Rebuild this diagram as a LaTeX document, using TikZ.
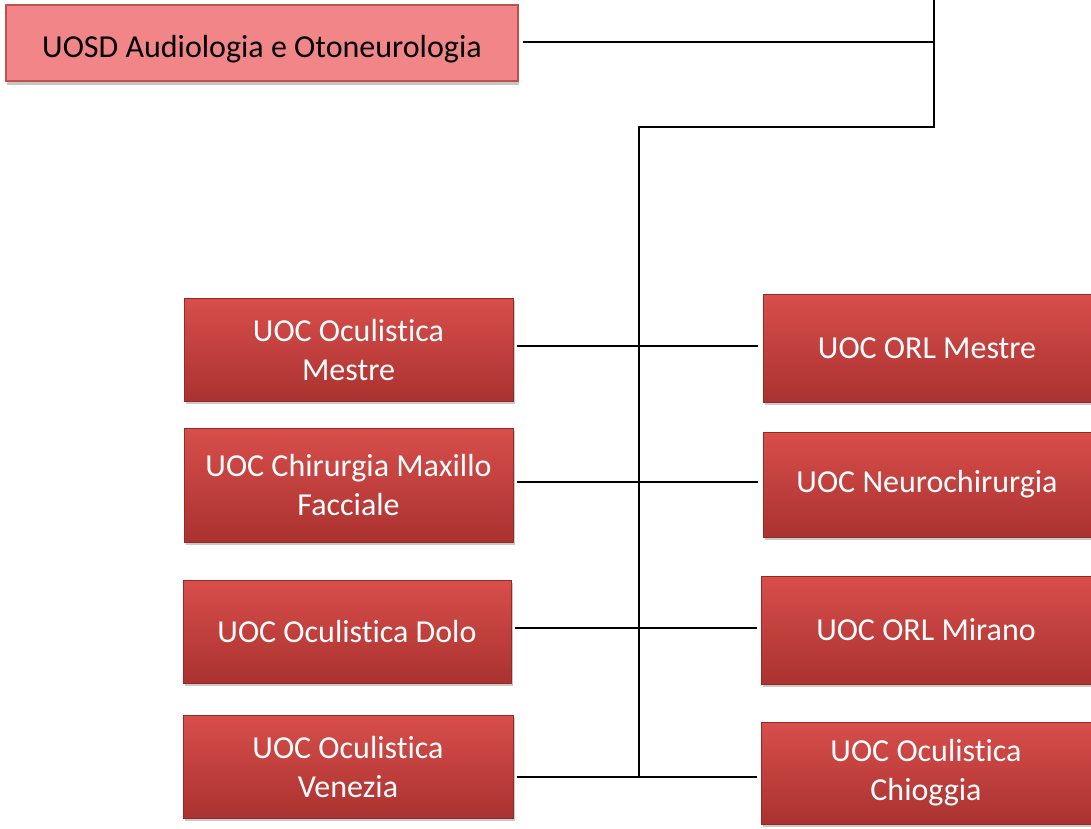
\documentclass[tikz,border=0pt]{standalone}
\usepackage{fontspec}
\setmainfont{Carlito}[Ligatures=CommonOff]
\usetikzlibrary{shadows}
\definecolor{redtop}{RGB}{216,78,75}
\definecolor{redbot}{RGB}{170,50,48}
\definecolor{redline}{RGB}{150,40,38}
\definecolor{pinkfill}{RGB}{241,133,135}
\definecolor{pinkline}{RGB}{192,80,77}
\tikzset{
  redbox/.style={rectangle, top color=redtop, bottom color=redbot, draw=redline, line width=0.8pt,
    text=white, align=center, inner sep=0pt, font=\fontsize{32}{39}\selectfont,
    drop shadow={shadow xshift=2pt, shadow yshift=-3pt, opacity=0.35, fill=black!60}},
  pinkbox/.style={rectangle, fill=pinkfill, draw=pinkline, line width=1.2pt,
    inner sep=0pt,
    drop shadow={shadow xshift=1pt, shadow yshift=-4pt, opacity=0.5, fill=black!45}},
  pinktext/.style={text=black, align=center, inner sep=0pt, font=\fontsize{32}{39}\selectfont},
  link/.style={draw=black, line width=2pt}
}
\begin{document}
\begin{tikzpicture}[x=1pt,y=-1pt]
\useasboundingbox (0,0) rectangle (1091,828);
\fill[white] (0,0) rectangle (1091,828);
% top box
\node[pinkbox, minimum width=512pt, minimum height=76pt] (T) at (262,43) {};
\node[pinktext] (Tt) at ([yshift=-6pt]T.center) {UOSD Audiologia e Otoneurologia};
% left boxes
\node[redbox, minimum width=329pt, minimum height=103pt] (L1) at (348.5,349.5) {UOC Oculistica\\Mestre};
\node[redbox, minimum width=329pt, minimum height=114pt] (L2) at (348.5,485) {UOC Chirurgia Maxillo\\Facciale};
\node[redbox, minimum width=328pt, minimum height=103pt] (L3) at (347,631.5) {UOC Oculistica Dolo};
\node[redbox, minimum width=330pt, minimum height=103pt] (L4) at (348,766.5) {UOC Oculistica\\Venezia};
% right boxes
\node[redbox, minimum width=328pt, minimum height=108pt] (R1) at (927,348) {UOC ORL Mestre};
\node[redbox, minimum width=328pt, minimum height=105pt] (R2) at (927,484.5) {UOC Neurochirurgia};
\node[redbox, minimum width=330pt, minimum height=108pt] (R3) at (926,630) {UOC ORL Mirano};
\node[redbox, minimum width=330pt, minimum height=102pt] (R4) at (926,773) {UOC Oculistica\\Chioggia};
% junctions
\coordinate (top) at (934,0);
\coordinate (tj) at (934,42);
\coordinate (bend) at (934,127);
\coordinate (tr) at (639,127);
\coordinate (j1) at (639,346);
\coordinate (j2) at (639,482);
\coordinate (j3) at (639,628);
\coordinate (j4) at (639,777);
% connectors
\draw[link] ([xshift=4pt]T.east |- tj) -- (tj);
\draw[link] (top) -- (bend) -- (tr) -- (j4);
\draw[link] ([xshift=4pt]L1.east |- j1) -- ([xshift=-5pt]R1.west |- j1);
\draw[link] ([xshift=4pt]L2.east |- j2) -- ([xshift=-5pt]R2.west |- j2);
\draw[link] ([xshift=4pt]L3.east |- j3) -- ([xshift=-4pt]R3.west |- j3);
\draw[link] ([xshift=4pt]L4.east |- j4) -- ([xshift=-4pt]R4.west |- j4);
\end{tikzpicture}
\end{document}
